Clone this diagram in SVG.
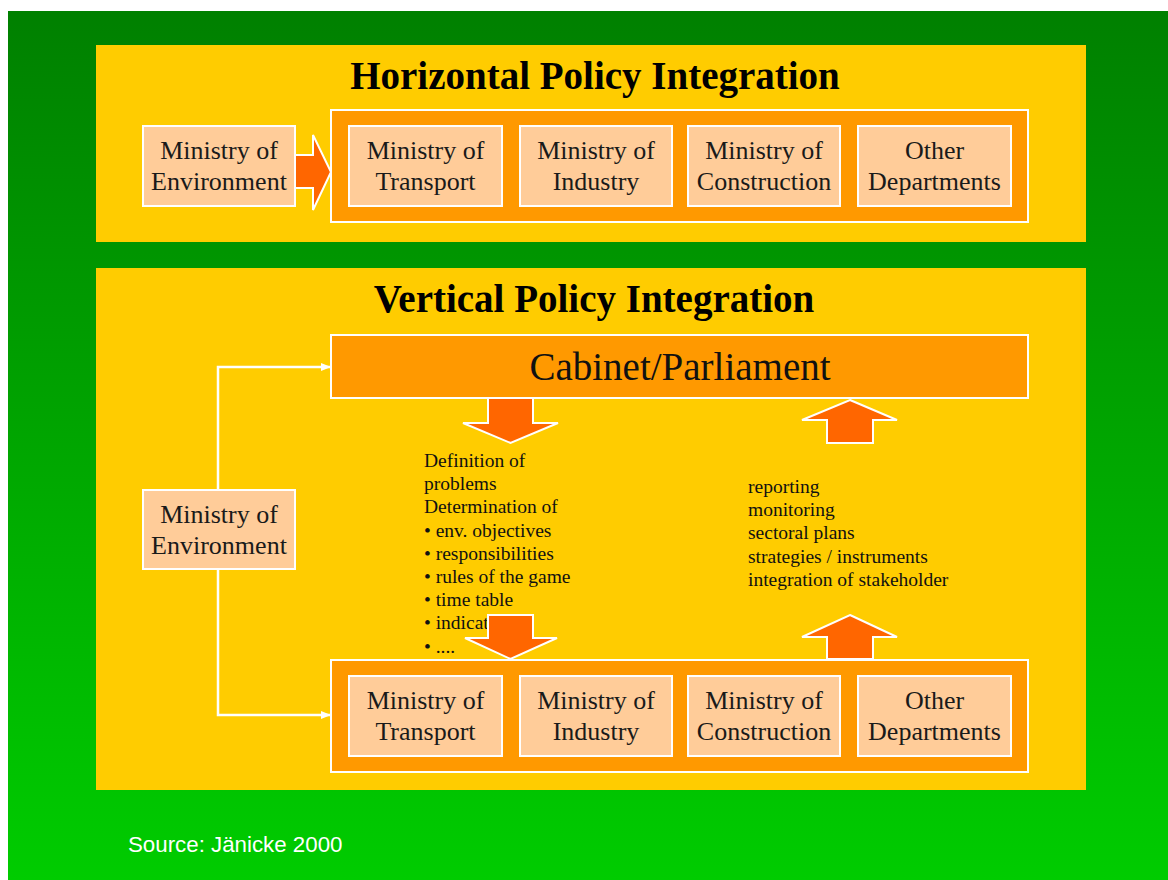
<svg xmlns="http://www.w3.org/2000/svg" width="1168" height="880" viewBox="0 0 1168 880">
<defs>
<linearGradient id="bg" x1="0" y1="0" x2="0" y2="1">
<stop offset="0" stop-color="#008000"/>
<stop offset="1" stop-color="#00CC00"/>
</linearGradient>
<marker id="ah" markerWidth="10" markerHeight="10" refX="9" refY="5" orient="auto" markerUnits="userSpaceOnUse">
<path d="M0,1 L10,5 L0,9 Z" fill="#FFFFFF"/>
</marker>
<style>
.panel{fill:#FFCC00;}
.cont{fill:#FF9900;stroke:#FFFFFF;stroke-width:2;}
.box{fill:#FFCC99;stroke:#FFFFFF;stroke-width:2;}
.arr{fill:#FF6600;stroke:#FFFFFF;stroke-width:2;stroke-linejoin:miter;}
.title{font-family:"Liberation Serif","Times New Roman",serif;font-weight:bold;font-size:39px;fill:#000;text-anchor:middle;}
.bt{font-family:"Liberation Serif","Times New Roman",serif;font-size:26px;fill:#1a1a1a;text-anchor:middle;}
.cab{font-family:"Liberation Serif","Times New Roman",serif;font-size:39px;fill:#111;text-anchor:middle;}
.lst{font-family:"Liberation Serif","Times New Roman",serif;font-size:19.5px;fill:#111;}
.src{font-family:"Liberation Sans",Arial,sans-serif;font-size:22.3px;fill:#FFFFFF;}
.conn{fill:none;stroke:#FFFFFF;stroke-width:2.5;}
</style>
</defs>
<rect x="0" y="0" width="1168" height="880" fill="#FFFFFF"/>
<rect x="8" y="11" width="1160" height="869" fill="url(#bg)"/>

<g id="panel-horizontal">
<rect class="panel" x="96" y="45" width="990" height="197"/>
<text class="title" x="595" y="89">Horizontal Policy Integration</text>
</g>
<g id="panel-vertical">
<rect class="panel" x="96" y="268" width="990" height="522"/>
<text class="title" x="594" y="312">Vertical Policy Integration</text>
</g>

<g id="connectors">
<path class="conn" d="M218,490 V367 H330" marker-end="url(#ah)"/>
<path class="conn" d="M218,569 V715 H330" marker-end="url(#ah)"/>
</g>

<g id="h-container">
<rect class="cont" x="331" y="110" width="697" height="112"/>
</g>
<g id="h-env">
<rect class="box" x="143" y="126" width="152" height="80"/>
<text class="bt" x="219" y="159">Ministry of</text>
<text class="bt" x="219" y="190">Environment</text>
</g>
<g id="h-arrow">
<polygon class="arr" points="295,155 313,155 313,135 331,172 313,210 313,188 295,188"/>
</g>
<g id="h-transport">
<rect class="box" x="349" y="126" width="153" height="80"/>
<text class="bt" x="425.5" y="159">Ministry of</text>
<text class="bt" x="425.5" y="190">Transport</text>
</g>
<g id="h-industry">
<rect class="box" x="520" y="126" width="152" height="80"/>
<text class="bt" x="596" y="159">Ministry of</text>
<text class="bt" x="596" y="190">Industry</text>
</g>
<g id="h-construction">
<rect class="box" x="688" y="126" width="152" height="80"/>
<text class="bt" x="764" y="159">Ministry of</text>
<text class="bt" x="764" y="190">Construction</text>
</g>
<g id="h-other">
<rect class="box" x="858" y="126" width="153" height="80"/>
<text class="bt" x="934.5" y="159">Other</text>
<text class="bt" x="934.5" y="190">Departments</text>
</g>

<g id="cabinet">
<rect class="cont" x="331" y="335" width="697" height="63"/>
<text class="cab" x="680" y="380">Cabinet/Parliament</text>
</g>

<g id="v-env">
<rect class="box" x="143" y="490" width="152" height="79"/>
<text class="bt" x="219" y="523">Ministry of</text>
<text class="bt" x="219" y="554">Environment</text>
</g>

<g id="list-down">
<text class="lst" x="424" y="467">Definition of</text>
<text class="lst" x="424" y="490">problems</text>
<text class="lst" x="424" y="513">Determination of</text>
<text class="lst" x="424" y="537">• env. objectives</text>
<text class="lst" x="424" y="560">• responsibilities</text>
<text class="lst" x="424" y="583">• rules of the game</text>
<text class="lst" x="424" y="606">• time table</text>
<text class="lst" x="424" y="629">• indicators</text>
<text class="lst" x="424" y="653">• ....</text>
</g>
<g id="list-up">
<text class="lst" x="748" y="493">reporting</text>
<text class="lst" x="748" y="516">monitoring</text>
<text class="lst" x="748" y="539">sectoral plans</text>
<text class="lst" x="748" y="563">strategies / instruments</text>
<text class="lst" x="748" y="586">integration of stakeholder</text>
</g>

<g id="v-container">
<rect class="cont" x="331" y="660" width="697" height="112"/>
</g>
<g id="v-transport">
<rect class="box" x="349" y="676" width="153" height="80"/>
<text class="bt" x="425.5" y="709">Ministry of</text>
<text class="bt" x="425.5" y="740">Transport</text>
</g>
<g id="v-industry">
<rect class="box" x="520" y="676" width="152" height="80"/>
<text class="bt" x="596" y="709">Ministry of</text>
<text class="bt" x="596" y="740">Industry</text>
</g>
<g id="v-construction">
<rect class="box" x="688" y="676" width="152" height="80"/>
<text class="bt" x="764" y="709">Ministry of</text>
<text class="bt" x="764" y="740">Construction</text>
</g>
<g id="v-other">
<rect class="box" x="858" y="676" width="153" height="80"/>
<text class="bt" x="934.5" y="709">Other</text>
<text class="bt" x="934.5" y="740">Departments</text>
</g>

<g id="arrows">
<polygon class="arr" points="488,398 533,398 533,423 558,423 510.5,443 463,423 488,423"/>
<polygon class="arr" points="488,615 533,615 533,638 557,638 510.5,659 465,638 488,638"/>
<polygon class="arr" points="850,400 897,420 873,420 873,443 827,443 827,420 802,420"/>
<polygon class="arr" points="850,615 897,637 873,637 873,659 827,659 827,637 802,637"/>
</g>

<text class="src" x="128" y="852">Source: Jänicke 2000</text>
</svg>
